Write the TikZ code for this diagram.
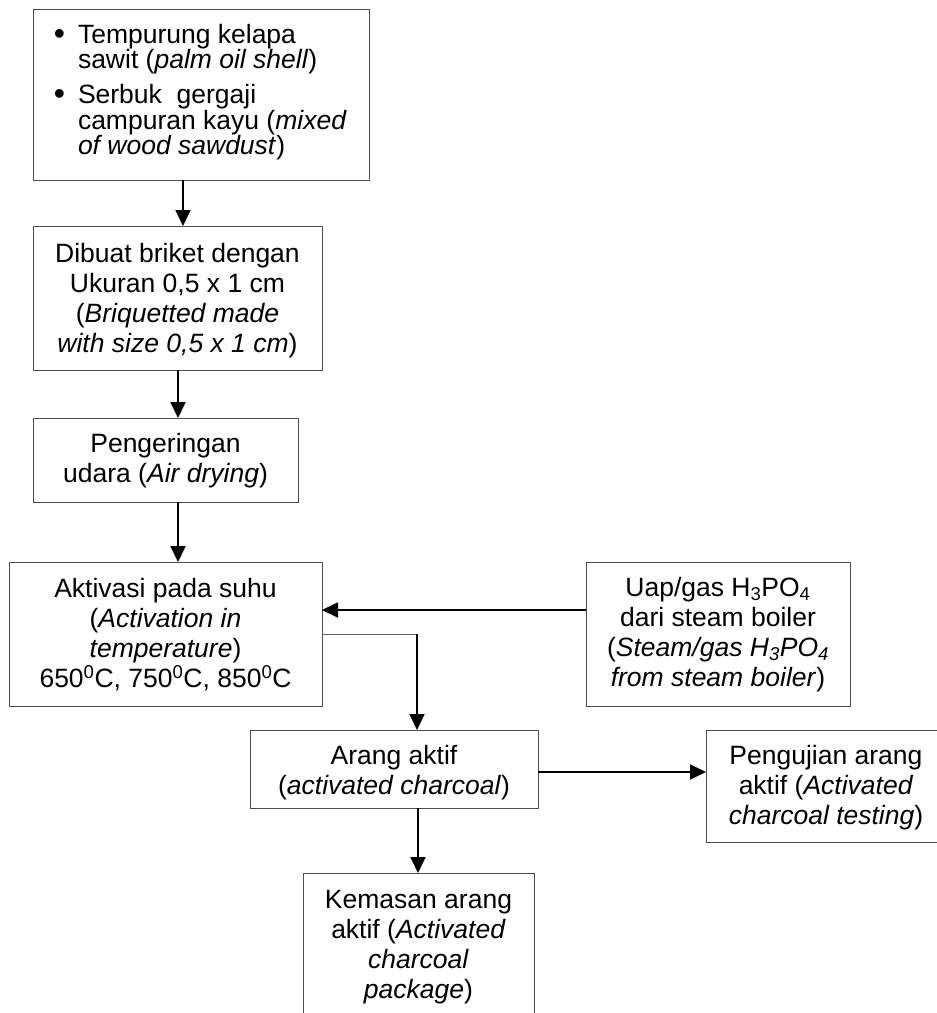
\documentclass[tikz,border=0pt]{standalone}
\usepackage{fontspec}
\setmainfont{Liberation Sans}
\usetikzlibrary{arrows.meta}
\tikzset{
  boxnode/.style={draw=black!70, line width=0.9pt, inner sep=0pt, outer sep=0pt, anchor=north west},
  txt/.style={inner sep=0pt, outer sep=0pt, anchor=base, font=\fontsize{26.5}{30.3}\selectfont},
  arr/.style={line width=1.8pt, -{Triangle[length=16pt,width=15pt]}},
  thinline/.style={draw=black!60, line width=1pt}
}
\newcommand{\ctext}[2]{\parbox[t]{#1}{\centering #2}}
\newcommand{\bulletmark}{\leavevmode\llap{\raisebox{-1pt}{\fontsize{32}{23}\selectfont •}\hspace{13pt}}}
\begin{document}
\begin{tikzpicture}[x=1pt,y=-1pt]
\useasboundingbox (0,0) rectangle (937,1013);
\clip (0,0) rectangle (937,1013);

% boxes
\node[boxnode, minimum width=336pt, minimum height=171pt] (b1) at (33,9) {};
\node[boxnode, minimum width=289pt, minimum height=144pt] (b2) at (33,226) {};
\node[boxnode, minimum width=265pt, minimum height=84pt] (b3) at (33,418) {};
\node[boxnode, minimum width=313pt, minimum height=144pt] (b4) at (9,562) {};
\node[boxnode, minimum width=264pt, minimum height=144pt] (uap) at (586,562) {};
\node[boxnode, minimum width=288pt, minimum height=78pt] (ar) at (250,730) {};
\node[boxnode, minimum width=240pt, minimum height=112pt] (pg) at (706,730) {};
\node[boxnode, minimum width=231pt, minimum height=170pt] (km) at (303,873) {};

% texts
\node[txt, anchor=base west, font=\fontsize{26.5}{23}\selectfont] (t1) at (78,43)
  {\parbox[t]{285pt}{\raggedright
   \bulletmark Tempurung kelapa\\
   sawit (\textit{palm oil shell})\\[9pt]
   \bulletmark Serbuk\ \ gergaji\\
   campuran kayu (\textit{mixed}\\
   \textit{of wood sawdust})}};
\node[txt] (t2) at (177.5,262) {\ctext{285pt}{Dibuat briket dengan\\Ukuran 0,5 x 1 cm\\(\textit{Briquetted made}\\\textit{with size 0,5 x 1 cm})}};
\node[txt] (t3) at (165.5,452) {\ctext{260pt}{Pengeringan\\udara (\textit{Air drying})}};
\node[txt] (t4) at (165.5,597) {\ctext{305pt}{Aktivasi pada suhu\\(\textit{Activation in}\\\textit{temperature})\\650\textsuperscript{0}C, 750\textsuperscript{0}C, 850\textsuperscript{0}C}};
\node[txt] (t5) at (718,596) {\ctext{260pt}{Uap/gas H\textsubscript{3}PO\textsubscript{4}\\dari steam boiler\\(\textit{Steam/gas H\textsubscript{3}PO\textsubscript{4}}\\\textit{from steam boiler})}};
\node[txt] (t6) at (394,764) {\ctext{285pt}{Arang aktif\\(\textit{activated charcoal})}};
\node[txt] (t7) at (826,764) {\ctext{230pt}{Pengujian arang\\aktif (\textit{Activated}\\\textit{charcoal testing})}};
\node[txt] (t8) at (418.5,908) {\ctext{228pt}{Kemasan arang\\aktif (\textit{Activated}\\\textit{charcoal}\\\textit{package})}};

% connector guides
\coordinate (x1) at (183,0);
\coordinate (x2) at (178,0);
\coordinate (x3) at (417,0);
\coordinate (x4) at (418,0);
\coordinate (y1) at (0,610);
\coordinate (y2) at (0,634);
\coordinate (y3) at (0,772);

% connectors
\draw[arr] (b1.south -| x1) -- (b2.north -| x1);
\draw[arr] (b2.south -| x2) -- (b3.north -| x2);
\draw[arr] (b3.south -| x2) -- (b4.north -| x2);
\draw[arr] (uap.west |- y1) -- (b4.east |- y1);
\draw[thinline] (b4.east |- y2) -- (x3 |- y2);
\draw[arr] ([yshift=0.5pt]x3 |- y2) -- (ar.north -| x3);
\draw[arr] (ar.east |- y3) -- (pg.west |- y3);
\draw[arr] (ar.south -| x4) -- (km.north -| x4);
\end{tikzpicture}
\end{document}
